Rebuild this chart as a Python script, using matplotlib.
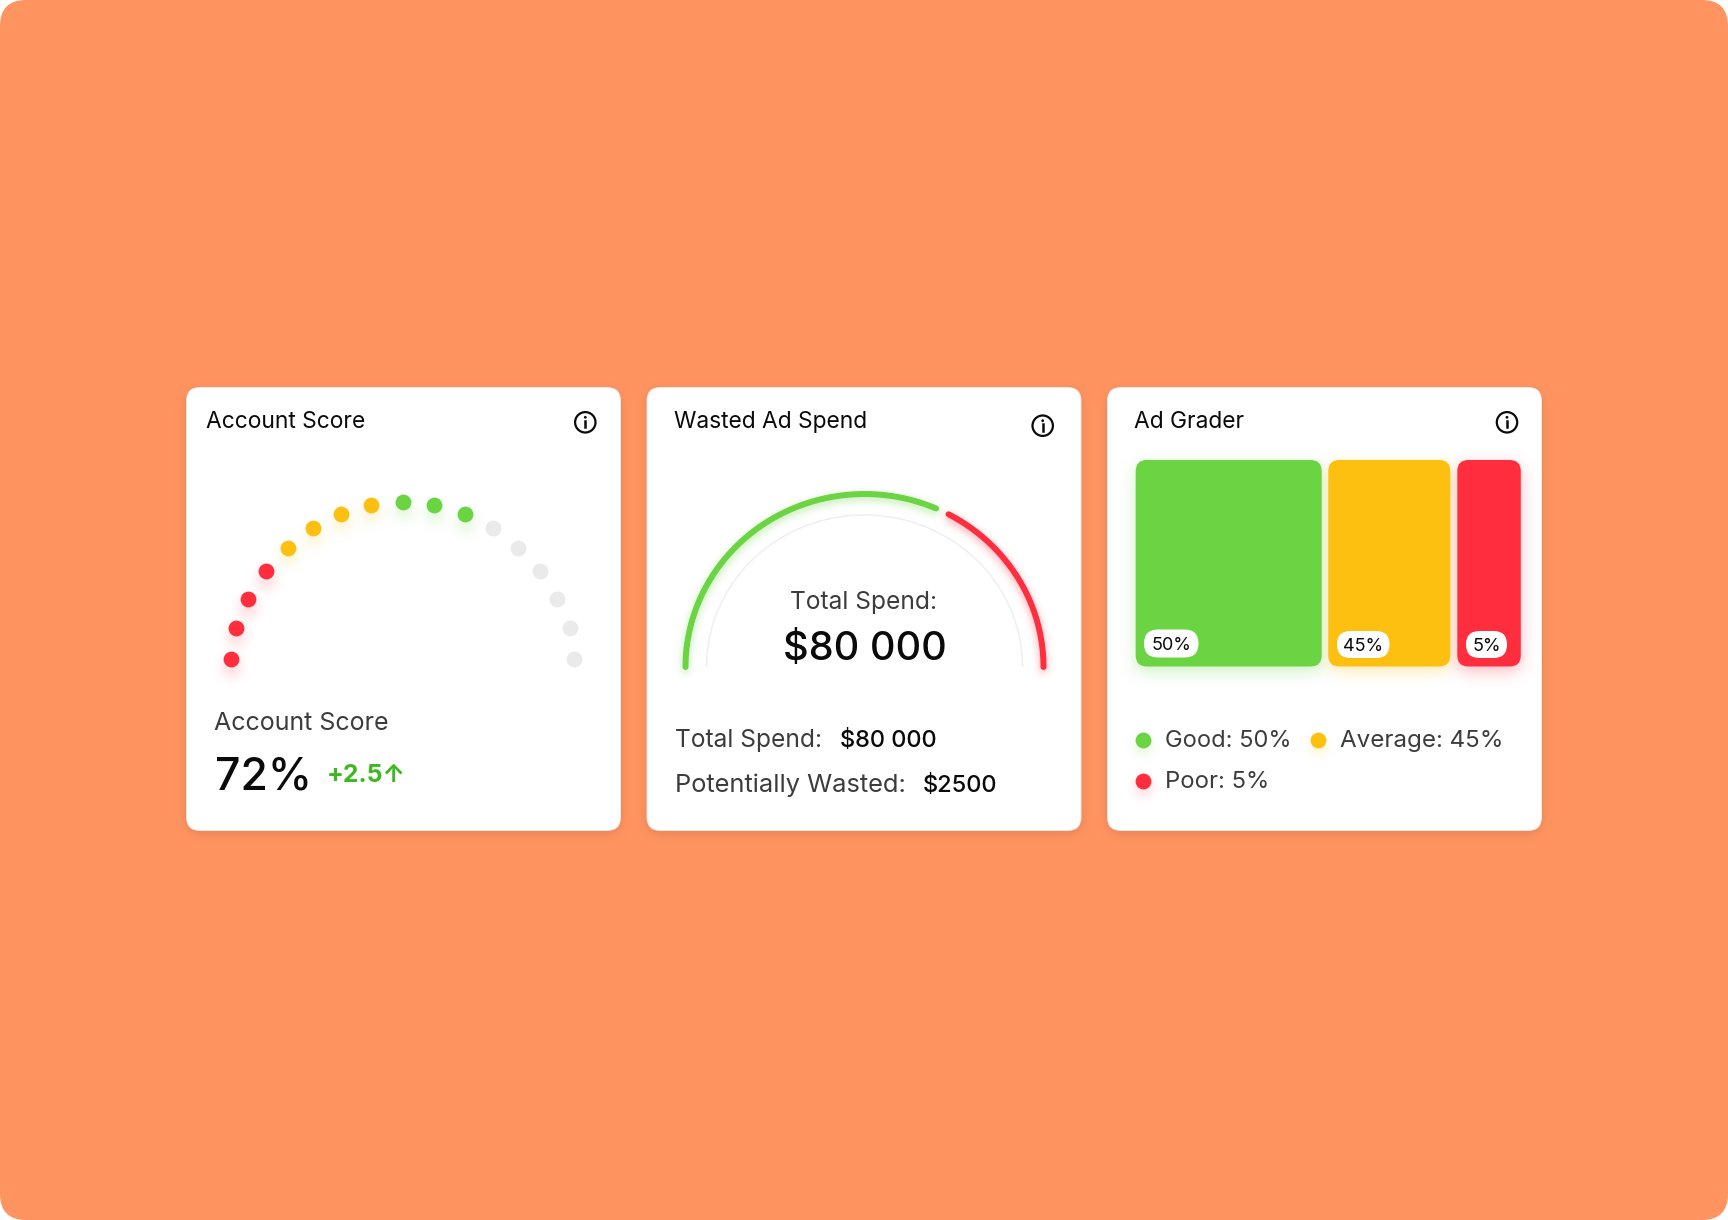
#!/usr/bin/env python3
"""three dashboard cards on an orange page"""
import numpy as np
import matplotlib
matplotlib.use('Agg')
import matplotlib.pyplot as plt
from matplotlib.patches import FancyBboxPatch, Circle

plt.rcParams['font.family'] = ['Inter', 'DejaVu Sans']

# data
card_titles = ['Account Score', 'Wasted Ad Spend', 'Ad Grader']
score_label = 'Account Score'
score_value = '72%'
score_delta = '+2.5↑'
dot_counts = [4, 4, 3, 6]            # red, yellow, green, unfilled

total_spend = '$80 000'
wasted_spend = '$2500'
gauge_spans = [113.6, 62.0]          # degrees of green and red arc
gauge_gap = 4.4

grade_names = ['Good', 'Average', 'Poor']
grade_values = [50, 45, 5]

# colours
ORANGE = '#FF9460'
RED = '#FF2E3F'
YELLOW = '#FDC010'
GREEN = '#6BD443'
LIGHT = '#EAEAEA'
GREY_TEXT = '#3C3C3C'
DARK = '#0A0A0A'

fig = plt.figure(figsize=(17.28, 12.20), dpi=100, facecolor='white')
ax = fig.add_axes([0, 0, 1, 1])
ax.set_xlim(0, 1728)
ax.set_ylim(1220, 0)
ax.axis('off')


def soft_shadow(color, sigma, strength, shift):
    """agg filter: blurs the alpha of an artist and moves it down"""
    rgb = matplotlib.colors.to_rgb(color)
    pad = int(sigma * 3) + 2
    xs = np.arange(-pad, pad + 1)
    kernel = np.exp(-xs ** 2 / (2 * sigma ** 2))
    kernel /= kernel.sum()

    def apply(img, dpi):
        alpha = np.pad(img[:, :, 3], pad)
        alpha = np.apply_along_axis(np.convolve, 0, alpha, kernel, mode='same')
        alpha = np.apply_along_axis(np.convolve, 1, alpha, kernel, mode='same')
        out = np.zeros(alpha.shape + (4,))
        out[:, :, :3] = rgb
        out[:, :, 3] = alpha * strength
        return out, -pad, -pad - shift
    return apply


def rounded(x, y, w, h, r, color, z, **kw):
    patch = FancyBboxPatch((x, y), w, h, boxstyle=f'round,pad=0,rounding_size={r}',
                           facecolor=color, edgecolor='none', zorder=z, **kw)
    ax.add_patch(patch)
    return patch


def info_icon(cx, cy):
    ax.add_patch(Circle((cx, cy), 10.2, facecolor='none', edgecolor=DARK, lw=1.6, zorder=5))
    ax.plot([cx, cx], [cy - 1.5, cy + 5], color=DARK, lw=1.8, zorder=5)
    ax.add_patch(Circle((cx, cy - 5), 1.4, facecolor=DARK, edgecolor='none', zorder=5))


def label(x, y, s, size, color=GREY_TEXT, weight='normal', ha='left', va='baseline'):
    ax.text(x, y, s, fontsize=size, color=color, fontweight=weight, ha=ha, va=va, zorder=6)


# page
rounded(0, 0, 1728, 1220, 26, ORANGE, 0)

# cards
card_lefts = [186, 646.5, 1107]
for left in card_lefts:
    shadow = rounded(left, 387, 435, 444, 14, '#B5603A', 1)
    shadow.set_agg_filter(soft_shadow('#A85A38', 5, 0.28, 3))
    rounded(left, 387, 435, 444, 14, '#EFE6E1', 2)
    rounded(left + 1, 388, 433, 442, 13, 'white', 2)

title_lefts = [205.5, 673.5, 1134.5]
for x, title in zip(title_lefts, card_titles):
    label(x, 428, title, 16.4, DARK)
info_icon(585.3, 422.3)
info_icon(1042.7, 425.7)
info_icon(1507, 422.3)

# account score: arc of dots
dot_colors = [RED, YELLOW, GREEN, LIGHT]
n_dots = sum(dot_counts)
dot_angles = np.linspace(np.pi, 0, n_dots)
dot_cos = np.cos(dot_angles)
dot_x = 402.7 + 162 * dot_cos + 9.3 * np.sign(dot_cos) * np.abs(dot_cos) ** 8
dot_y = 658.7 - 157 * np.sin(dot_angles)
start = 0
for count, color in zip(dot_counts, dot_colors):
    xs, ys = dot_x[start:start + count], dot_y[start:start + count]
    if color != LIGHT:
        glow = ax.scatter(xs, ys, s=140, color=color, linewidths=0, zorder=3)
        glow.set_agg_filter(soft_shadow(color, 4.5, 0.5, 4))
    ax.scatter(xs, ys, s=130, color=color, linewidths=0, zorder=4)
    start += count

label(214.5, 730, score_label, 18, weight='normal')
label(215, 789, score_value, 32, DARK, weight='medium')
label(327, 782, score_delta, 17.8, '#3DB81E', weight='bold')

# wasted spend: gauge
CX, CY = 864.5, 667


def arc_xy(a, b, deg_from, deg_to):
    t = np.radians(np.linspace(deg_from, deg_to, 200))
    return CX + a * np.cos(t), CY - b * np.sin(t)


ix, iy = arc_xy(158, 152, 180, 0)
ax.plot(ix, iy, color='#EFEFEF', lw=1.1, solid_capstyle='butt', zorder=3)

green_end = 180 - gauge_spans[0]
red_start = green_end - gauge_gap
for (d0, d1), color in zip([(180, green_end), (red_start, red_start - gauge_spans[1])], [GREEN, RED]):
    gx, gy = arc_xy(179, 173, d0, d1)
    glow, = ax.plot(gx, gy, color=color, lw=4.4, solid_capstyle='round', zorder=3)
    glow.set_agg_filter(soft_shadow(color, 4, 0.45, 3))
    ax.plot(gx, gy, color=color, lw=4.3, solid_capstyle='round', zorder=4)

label(864, 609, 'Total Spend:', 17.7, ha='center')
label(865, 660, total_spend, 28.6, DARK, weight='medium', ha='center')
label(675, 747, 'Total Spend:', 17.7)
label(840, 747, total_spend, 17, DARK, weight='medium')
label(675, 792, 'Potentially Wasted:', 18.3)
label(923, 792, wasted_spend, 17, DARK, weight='medium')

# ad grader: blocks
block_lefts = [1135.7, 1328.3, 1457.3]
block_widths = [186, 122, 63.5]
block_colors = [GREEN, YELLOW, RED]
pill_boxes = [(1144, 629.5, 54.5, 28), (1337, 631, 52.5, 27), (1466, 631, 41, 27)]
for i, value in enumerate(grade_values):
    color = block_colors[i]
    glow = rounded(block_lefts[i], 460, block_widths[i], 206.5, 11, color, 3)
    glow.set_agg_filter(soft_shadow(color, 8, 0.32, 5))
    rounded(block_lefts[i], 460, block_widths[i], 206.5, 11, color, 4)
    px, py, pw, ph = pill_boxes[i]
    rounded(px, py, pw, ph, ph / 2, 'white', 5)
    label(px + pw / 2, py + ph / 2, f'{value}%', 13, DARK, ha='center', va='center_baseline')

legend_spots = [(1143, 739.7), (1318.3, 739.7), (1143, 780.7)]
legend_sizes = [17, 17.4, 17.2]
for name, value, color, (lx, ly), size in zip(grade_names, grade_values, block_colors, legend_spots, legend_sizes):
    glow = ax.scatter([lx], [ly], s=140, color=color, linewidths=0, zorder=3)
    glow.set_agg_filter(soft_shadow(color, 4, 0.45, 3))
    ax.scatter([lx], [ly], s=130, color=color, linewidths=0, zorder=4)
    label(lx + 22, ly + 7.5, f'{name}: {value}%', size)

fig.savefig('out.png', dpi=100, facecolor='white')
